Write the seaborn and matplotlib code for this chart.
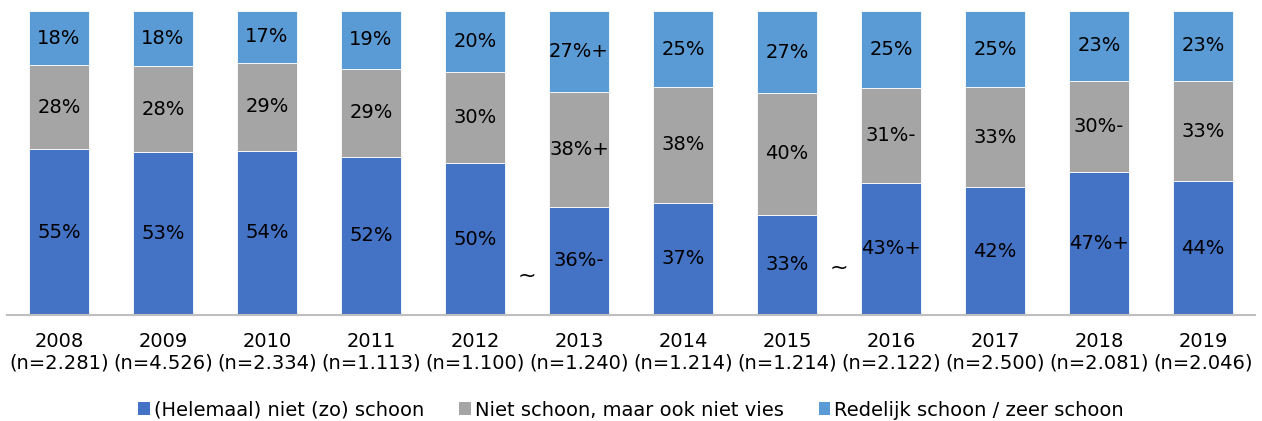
import numpy as np
import pandas as pd
import matplotlib
matplotlib.use("Agg")
import matplotlib.pyplot as plt
import seaborn as sns
from matplotlib.patches import Patch

years = ["2008", "2009", "2010", "2011", "2012", "2013", "2014", "2015", "2016", "2017", "2018", "2019"]
n_labels = ["2.281", "4.526", "2.334", "1.113", "1.100", "1.240", "1.214", "1.214", "2.122", "2.500", "2.081", "2.046"]
niet_schoon = [55, 53, 54, 52, 50, 36, 37, 33, 43, 42, 47, 44]
neutraal = [28, 28, 29, 29, 30, 38, 38, 40, 31, 33, 30, 33]
schoon = [18, 18, 17, 19, 20, 27, 25, 27, 25, 25, 23, 23]
niet_schoon_sig = ["", "", "", "", "", "-", "", "", "+", "", "+", ""]
neutraal_sig = ["", "", "", "", "", "+", "", "", "-", "", "-", ""]
schoon_sig = ["", "", "", "", "", "+", "", "", "", "", "", ""]
series_names = ["(Helemaal) niet (zo) schoon", "Niet schoon, maar ook niet vies", "Redelijk schoon / zeer schoon"]
colors = ["#4472C4", "#A5A5A5", "#5B9BD5"]
break_positions = [4.5, 7.5]
break_heights = [0.13, 0.155]

sns.set_theme(style="white")
plt.rcParams['font.family'] = ['DejaVu Sans']
plt.rcParams['text.color'] = '#000000'

FS = 14

fig = plt.figure(figsize=(12.62, 4.21), dpi=100)
ax = fig.add_axes([7/1262, 1 - 315/421, (1255-7)/1262, (315-11)/421])

vals = np.array([niet_schoon, neutraal, schoon], dtype=float)
totals = vals.sum(axis=0)
shares = vals / totals
cats = [f"{y}\n(n={n})" for y, n in zip(years, n_labels)]
sigs = [niet_schoon_sig, neutraal_sig, schoon_sig]

bottom = np.zeros(len(years))
for i in range(3):
    df = pd.DataFrame({"cat": cats, "val": shares[i]})
    sns.barplot(data=df, x="cat", y="val", color=colors[i], saturation=1,
                width=0.57, bottom=bottom, ax=ax, edgecolor="white", linewidth=0.6)
    for j in range(len(years)):
        yc = bottom[j] + shares[i][j] / 2
        ax.text(j, yc, f"{int(vals[i][j])}%{sigs[i][j]}", ha="center", va="center",
                fontsize=FS, color="#000000")
    bottom = bottom + shares[i]

for xp, yh in zip(break_positions, break_heights):
    ax.text(xp, yh, "~", ha="center", va="center", fontsize=FS + 2, color="#000000")

ax.set_xlim(-0.5, len(years) - 0.5)
ax.set_ylim(0, 1)
ax.set_xlabel("")
ax.set_ylabel("")
ax.set_yticks([])
ax.tick_params(axis="x", length=0, labelsize=FS, pad=12, colors="#000000")
for s in ["top", "left", "right"]:
    ax.spines[s].set_visible(False)
ax.spines["bottom"].set_color("#BFBFBF")
ax.spines["bottom"].set_linewidth(1.5)
for lbl in ax.get_xticklabels():
    lbl.set_linespacing(1.2)

handles = [Patch(facecolor=c, edgecolor="none") for c in colors]
fig.legend(handles, series_names, loc="center", bbox_to_anchor=(0.5, 1 - 410/421),
           ncol=3, frameon=False, fontsize=FS, handlelength=0.6, handleheight=0.6,
           handletextpad=0.2, columnspacing=1.8, labelcolor="#000000")

fig.savefig("out.png", dpi=100)
